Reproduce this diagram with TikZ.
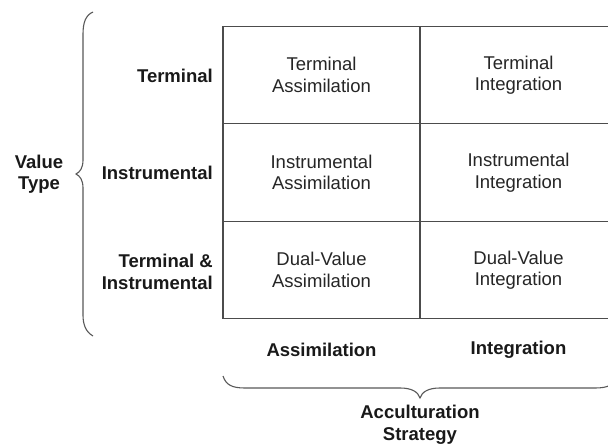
\documentclass[tikz,border=0pt]{standalone}
\usepackage{fontspec}
\setmainfont{Liberation Sans}
\begin{document}
\begin{tikzpicture}[x=1pt,y=-1pt,
  cell/.style={draw=black!70,line width=1.1pt,minimum width=197pt,minimum height=97.5pt,inner sep=0pt,
    align=center,font=\fontsize{18.5}{21.5}\selectfont,text=black!85},
  lab/.style={font=\fontsize{18.5}{21.5}\selectfont\bfseries,text=black!90,inner sep=0pt},
  bracestyle/.style={draw=black!65,line width=1.1pt}]
\useasboundingbox[fill=white] (0,0) rectangle (608,444);
% cells
\node[cell] (ta) at (321.5,75) {Terminal\\Assimilation};
\node[cell] (ti) at (518.5,75) {Terminal\\Integration};
\node[cell] (ia) at (321.5,172.5) {Instrumental\\Assimilation};
\node[cell] (ii) at (518.5,172.5) {Instrumental\\Integration};
\node[cell] (da) at (321.5,270) {Dual-Value\\Assimilation};
\node[cell] (di) at (518.5,270) {Dual-Value\\Integration};
% row labels
\node[lab,anchor=east] (rt) at (213,76) {Terminal};
\node[lab,anchor=east] (ri) at (213,173) {Instrumental};
\node[lab,anchor=east,align=right] (rti) at (213,272) {Terminal \&\\Instrumental};
\node[lab,align=center] (vt) at (39,174) {Value\\Type};
% column labels
\node[lab] (ca) at (321.5,350) {Assimilation};
\node[lab] (ci) at (518.5,350) {Integration};
\node[lab,align=center] (as) at (420,425) {Acculturation\\Strategy};
% left brace
\draw[bracestyle] (93,12) .. controls (86,15) and (83,22) .. (83,34) -- (83,160)
  .. controls (83,168) and (80,172) .. (76,174)
  .. controls (80,176) and (83,180) .. (83,188) -- (83,315)
  .. controls (83,325) and (86,332) .. (93,336);
% bottom brace
\draw[bracestyle] (223,376) .. controls (226,385) and (232,388) .. (245,388) -- (400,388)
  .. controls (412,388) and (418,392) .. (420,398)
  .. controls (422,392) and (428,388) .. (440,388) -- (595,388)
  .. controls (608,388) and (614,385) .. (617,376);
\end{tikzpicture}
\end{document}
